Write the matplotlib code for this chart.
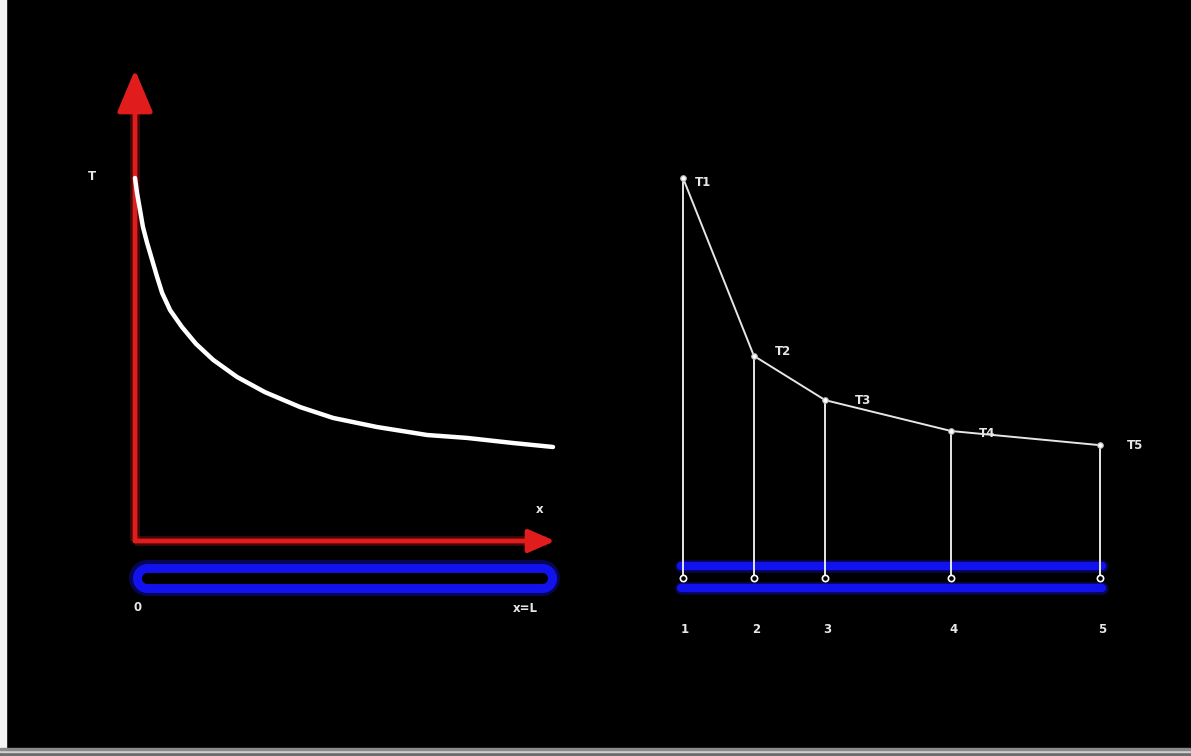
import matplotlib.pyplot as plt
from matplotlib.patches import FancyArrowPatch, Rectangle

# Continuous temperature profile along the rod (x / L, T in arbitrary units)
x_profile = [0, 0.0048, 0.012, 0.019, 0.029, 0.041, 0.053, 0.065, 0.084, 0.112,
             0.146, 0.187, 0.244, 0.311, 0.395, 0.474, 0.579, 0.699, 0.794, 0.904, 1.0]
T_profile = [100.0, 95.9, 91.2, 86.5, 82.1, 77.4, 72.7, 68.3, 63.6, 59.0,
             54.3, 49.9, 45.2, 41.0, 36.9, 33.9, 31.4, 29.2, 28.4, 27.0, 25.9]

# Discrete nodes (x / L) and their temperatures
node_x = [0, 0.170, 0.341, 0.643, 1.0]
node_T = [100, 51.0, 38.8, 30.3, 26.4]
node_labels = ['1', '2', '3', '4', '5']
temp_labels = ['T1', 'T2', 'T3', 'T4', 'T5']

rod_T = -10.1       # level of the rod drawn under the axes
arrow_top = 129.8   # top of the T arrow
arrow_right = 1.005  # end of the x arrow

red = '#e01c1c'
blue = '#1212ee'
txt = '#e6e6e6'

fig = plt.figure(figsize=(11.91, 7.56), dpi=100, facecolor='black')

# window frame bits: white strip on the left, gray bar at the bottom
fig.patches.append(Rectangle((0, 8 / 756), 6 / 1191, 1, transform=fig.transFigure, color='#f4f4f4', zorder=0))
fig.patches.append(Rectangle((0, 0), 1, 4 / 756, transform=fig.transFigure, color='#6c6c6c', zorder=0))
fig.patches.append(Rectangle((0, 4 / 756), 1, 2.5 / 756, transform=fig.transFigure, color='#d0d0d0', zorder=0))
fig.patches.append(Rectangle((0, 6.5 / 756), 1, 1.5 / 756, transform=fig.transFigure, color='#8a8a8a', zorder=0))

ylims = (-(756 - 541) / 3.63, 541 / 3.63)

# ---------------- left panel ----------------
ax1 = fig.add_axes([0, 0, 1, 1], label='left')
ax1.set_xlim(-135 / 418, (1191 - 135) / 418)
ax1.set_ylim(*ylims)
ax1.axis('off')
ax1.patch.set_alpha(0)

# rod: blue stadium outline
ax1.plot([0.029, 0.974], [rod_T, rod_T], color=blue, lw=26, alpha=0.35, solid_capstyle='round')
ax1.plot([0.029, 0.974], [rod_T, rod_T], color=blue, lw=21, solid_capstyle='round')
ax1.plot([0.029, 0.974], [rod_T, rod_T], color='black', lw=8, solid_capstyle='round')

# axes arrows
ax1.plot([0, 0], [0, arrow_top - 8], color=red, lw=7, alpha=0.3, solid_capstyle='butt')
ax1.plot([0, arrow_right - 0.02], [0, 0], color=red, lw=7, alpha=0.3, solid_capstyle='butt')
ax1.add_patch(FancyArrowPatch((0, 0), (0, arrow_top), arrowstyle='-|>,head_length=26,head_width=11',
                              color=red, lw=3.4, mutation_scale=1, shrinkA=0, shrinkB=0))
ax1.add_patch(FancyArrowPatch((0, 0), (arrow_right, 0), arrowstyle='-|>,head_length=16,head_width=7',
                              color=red, lw=3.4, mutation_scale=1, shrinkA=0, shrinkB=0))

ax1.plot(x_profile, T_profile, color='white', lw=3.2, solid_capstyle='round', solid_joinstyle='round')

lab_kw = dict(color=txt, fontsize=8.5, fontweight='bold', ha='center', va='center')
ax1.text(-0.103, 100.3, 'T', **lab_kw)
ax1.text(0.967, 8.8, 'x', **lab_kw)
ax1.text(0.005, -18.2, '0', **lab_kw)
ax1.text(0.933, -18.5, 'x=L', **lab_kw)

# ---------------- right panel ----------------
ax2 = fig.add_axes([0, 0, 1, 1], label='right')
ax2.set_xlim(-683 / 417, (1191 - 683) / 417)
ax2.set_ylim(*ylims)
ax2.axis('off')
ax2.patch.set_alpha(0)

for lvl in (-6.9, -12.9):
    ax2.plot([-0.004, 1.004], [lvl, lvl], color=blue, lw=9, alpha=0.35, solid_capstyle='round')
    ax2.plot([-0.004, 1.004], [lvl, lvl], color=blue, lw=6, solid_capstyle='round')

ax2.plot(node_x, node_T, color=txt, lw=1.4)
for xi, ti in zip(node_x, node_T):
    ax2.plot([xi, xi], [rod_T, ti], color=txt, lw=1.4)
ax2.plot(node_x, node_T, 'o', ms=4, mfc='white', mec='#bbbbbb', mew=0.8)
ax2.plot(node_x, [rod_T] * len(node_x), 'o', ms=4.5, mfc='black', mec='white', mew=1.2)

label_dx = [20, 29, 38, 36, 35]
label_dy = [-4, 4, 0, -2, 0]
for xi, ti, lab, dx, dy in zip(node_x, node_T, temp_labels, label_dx, label_dy):
    ax2.annotate(lab, (xi, ti), xytext=(dx * 0.72, dy * 0.72), textcoords='offset points', **lab_kw)
for xi, lab in zip(node_x, node_labels):
    ax2.text(xi + 0.005, -24.5, lab, **lab_kw)

fig.savefig('out.png', dpi=100, facecolor='black')
